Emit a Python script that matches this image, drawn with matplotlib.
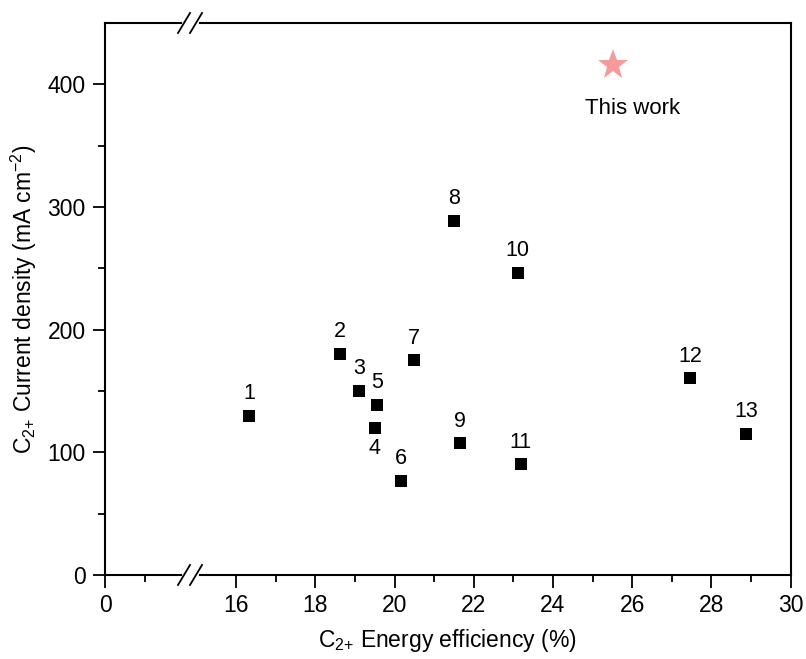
import numpy as np
import matplotlib
matplotlib.use("Agg")
import matplotlib.pyplot as plt
import matplotlib.transforms as mtrans
from matplotlib.ticker import FixedLocator, NullFormatter
from matplotlib.lines import Line2D

plt.rcParams['font.family'] = ['Liberation Sans', 'DejaVu Sans']
plt.rcParams['mathtext.fontset'] = 'custom'
plt.rcParams['mathtext.rm'] = 'Liberation Sans'
plt.rcParams['mathtext.it'] = 'Liberation Sans'

# ---- data ----
labels = ['1', '2', '3', '4', '5', '6', '7', '8', '9', '10', '11', '12', '13']
energy_eff = [16.33, 18.63, 19.11, 19.50, 19.56, 20.16, 20.49, 21.51, 21.66, 23.11, 23.19, 27.46, 28.88]
current_density = [129.5, 180, 150, 120, 138.7, 76.6, 175, 288.6, 107.3, 246.3, 90.2, 160.2, 114.9]
this_work_eff = [25.51]
this_work_cd = [415.5]
x_major_ticks = [0, 16, 18, 20, 22, 24, 26, 28, 30]
x_minor_ticks = [1, 17, 19, 21, 23, 25, 27, 29]
y_major_ticks = [0, 100, 200, 300, 400]
y_minor_ticks = [50, 150, 250, 350]

# ---- broken x scale ----
BRK = 2.146
OFF = 12.69

def fwd(x):
    x = np.asarray(x, dtype=float)
    return np.where(x <= BRK, x, x - OFF)

def inv(y):
    y = np.asarray(y, dtype=float)
    return np.where(y <= BRK, y, y + OFF)

fig = plt.figure(figsize=(8.06, 6.59), dpi=100)
ax = fig.add_axes([0.1303, 0.1275, 0.8505, 0.8376])
ax.set_xscale('function', functions=(fwd, inv))
ax.set_xlim(0, 30)
ax.set_ylim(0, 450)

ax.plot(energy_eff, current_density, linestyle='none', marker='s',
        markersize=8.4, markeredgewidth=0, color='black', zorder=3)
ax.plot(this_work_eff, this_work_cd, linestyle='none', marker='*',
        markersize=23, markeredgewidth=0, color='#F69A9C', zorder=3)

below = {'4'}
for lab, xv, yv in zip(labels, energy_eff, current_density):
    dy = -15 if lab in below else 16
    ax.annotate(lab, (xv, yv), xytext=(0, dy), textcoords='offset points',
                ha='center', va='center', fontsize=15.5)
ax.annotate('This work', (this_work_eff[0], this_work_cd[0]), xytext=(14.5, -31),
            textcoords='offset points', ha='center', va='center', fontsize=16)

ax.xaxis.set_major_locator(FixedLocator(x_major_ticks))
ax.xaxis.set_minor_locator(FixedLocator(x_minor_ticks))
ax.xaxis.set_minor_formatter(NullFormatter())
ax.yaxis.set_major_locator(FixedLocator(y_major_ticks))
ax.yaxis.set_minor_locator(FixedLocator(y_minor_ticks))
ax.set_xticklabels([str(t) for t in x_major_ticks])

ax.tick_params(axis='both', which='major', direction='out', length=9, width=1.3,
               labelsize=16.5, pad=5)
ax.tick_params(axis='both', which='minor', direction='out', length=5, width=1.3)
ax.tick_params(top=False, right=False, which='both')
for s in ax.spines.values():
    s.set_linewidth(1.5)

ax.set_xlabel('C$_{2{+}}$ Energy efficiency (%)', fontsize=16.5, labelpad=7)
ax.set_ylabel('C$_{2{+}}$ Current density (mA cm$^{\\mathrm{-}2}$)', fontsize=16.5, labelpad=6)

# ---- break marks on top and bottom spines ----
fig.canvas.draw()
bx = ax.transData.transform((BRK, 0))[0]
for yy in (0, 1):
    y_disp = ax.transAxes.transform((0, yy))[1]
    gap = Line2D([bx - 6, bx + 6], [y_disp, y_disp], color='white', linewidth=3.5,
                 transform=mtrans.IdentityTransform(), clip_on=False, zorder=5)
    ax.add_line(gap)
    for dx in (-6, 6):
        ln = Line2D([bx + dx - 6, bx + dx + 6], [y_disp - 10, y_disp + 10],
                    color='black', linewidth=1.3, clip_on=False, zorder=6,
                    transform=mtrans.IdentityTransform())
        ax.add_line(ln)

fig.savefig('out.png', dpi=100)
